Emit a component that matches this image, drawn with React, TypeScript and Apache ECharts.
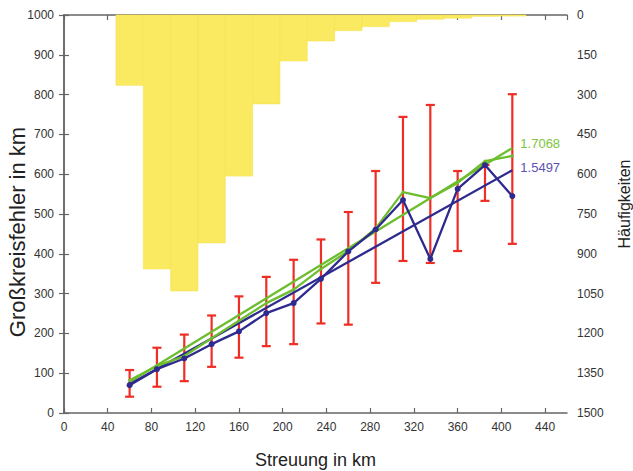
import React, { useEffect, useRef } from "react";
import * as echarts from "echarts";

const xs = [60, 85, 110, 135, 160, 185, 210, 235, 260, 285, 310, 335, 360, 385, 410];
const counts = [265, 957, 1040, 859, 607, 335, 173, 98, 59, 44, 25, 16, 12, 5, 4];
const blueMean = [70, 110, 137, 173, 205, 251, 276, 337, 406, 461, 535, 387, 563, 623, 545];
const greenMean = [82, 118, 143, 188, 232, 276, 310, 362, 407, 464, 555, 540, 578, 633, 646];
const errHigh = [108, 164, 197, 245, 293, 342, 385, 436, 505, 608, 744, 774, 608, 623, 801];
const errLow = [41, 66, 80, 116, 139, 168, 173, 225, 222, 327, 382, 377, 407, 533, 425];
const blueFit = [[60, 72], [410, 610]];
const greenFit = [[60, 78], [410, 666]];
const blueSlope = "1.5497";
const greenSlope = "1.7068";
const binWidth = 25;
const leftTitle = "Großkreisfehler in km";
const rightTitle = "Häufigkeiten";
const bottomTitle = "Streuung in km";

const FONT = "'Liberation Sans', Arial, Helvetica, sans-serif";
const AXIS_COLOR = "#666";
const TEXT_COLOR = "#333";

export default function App() {
  const ref = useRef<HTMLDivElement>(null);
  useEffect(() => {
    if (!ref.current) return;
    const chart = echarts.init(ref.current, undefined, { renderer: "svg" });
    const axisCommon = {
      axisLine: { show: true, lineStyle: { color: AXIS_COLOR, width: 1.5 } },
      axisTick: { show: true, inside: true, length: 5, lineStyle: { color: AXIS_COLOR, width: 1.2 } },
      splitLine: { show: false },
    };
    const plain = (v: number) => String(v);
    chart.setOption({
      animation: false,
      backgroundColor: "#fff",
      textStyle: { fontFamily: FONT },
      grid: { left: 64, right: 66, top: 15, bottom: 58, containLabel: false, outerBoundsMode: "none" },
      graphic: [
        {
          type: "text",
          x: 17,
          y: 232,
          rotation: Math.PI / 2,
          style: {
            text: leftTitle,
            font: `22px ${FONT}`,
            fill: "#222",
            align: "center",
            verticalAlign: "middle",
            textAlign: "center",
            textVerticalAlign: "middle",
          },
        },
        {
          type: "text",
          x: 624,
          y: 204,
          rotation: Math.PI / 2,
          style: {
            text: rightTitle,
            font: `16px ${FONT}`,
            fill: "#222",
            align: "center",
            verticalAlign: "middle",
            textAlign: "center",
            textVerticalAlign: "middle",
          },
        },
      ],
      xAxis: [
        {
          type: "value",
          min: 0,
          max: 460,
          interval: 40,
          position: "bottom",
          ...axisCommon,
          axisLabel: { color: TEXT_COLOR, fontSize: 12, margin: 8, fontFamily: FONT, showMaxLabel: false, formatter: plain },
          name: bottomTitle,
          nameLocation: "middle",
          nameGap: 38,
          nameTextStyle: { color: "#222", fontSize: 18, fontFamily: FONT },
        },
        {
          type: "value",
          min: 0,
          max: 460,
          interval: 40,
          position: "top",
          ...axisCommon,
          axisLabel: { show: false },
        },
      ],
      yAxis: [
        {
          type: "value",
          min: 0,
          max: 1000,
          interval: 100,
          position: "left",
          ...axisCommon,
          axisLabel: { color: TEXT_COLOR, fontSize: 12, margin: 10, fontFamily: FONT, formatter: plain },
        },
        {
          type: "value",
          min: 0,
          max: 1500,
          interval: 150,
          inverse: true,
          position: "right",
          ...axisCommon,
          axisLabel: { color: TEXT_COLOR, fontSize: 12, margin: 10, fontFamily: FONT, formatter: plain },
        },
      ],
      series: [
        {
          type: "custom",
          name: "hist",
          xAxisIndex: 0,
          yAxisIndex: 1,
          z: 1,
          data: xs.map((x, i) => [x, counts[i]]),
          renderItem: (params: any, api: any) => {
            const x = api.value(0);
            const v = api.value(1);
            const p0 = api.coord([x - binWidth / 2, 0]);
            const p1 = api.coord([x + binWidth / 2, v]);
            return {
              type: "rect",
              shape: { x: p0[0], y: p0[1], width: p1[0] - p0[0], height: p1[1] - p0[1] },
              style: { fill: "#FAEA62", stroke: "#F6E24E", lineWidth: 0.6 },
            };
          },
        },
        {
          type: "custom",
          name: "err",
          xAxisIndex: 0,
          yAxisIndex: 0,
          z: 2,
          data: xs.map((x, i) => [x, errLow[i], errHigh[i]]),
          renderItem: (params: any, api: any) => {
            const x = api.value(0);
            const lo = api.coord([x, api.value(1)]);
            const hi = api.coord([x, api.value(2)]);
            const cap = 4.5;
            const style = { stroke: "#EE2E24", lineWidth: 2.2 };
            return {
              type: "group",
              children: [
                { type: "line", shape: { x1: hi[0], y1: hi[1], x2: lo[0], y2: lo[1] }, style },
                { type: "line", shape: { x1: hi[0] - cap, y1: hi[1], x2: hi[0] + cap, y2: hi[1] }, style },
                { type: "line", shape: { x1: lo[0] - cap, y1: lo[1], x2: lo[0] + cap, y2: lo[1] }, style },
              ],
            };
          },
        },
        {
          type: "line",
          name: "greenFit",
          z: 3,
          data: greenFit,
          symbol: "none",
          lineStyle: { color: "#6DBE2E", width: 2.3 },
          endLabel: {
            show: true,
            formatter: greenSlope,
            color: "#7CC43A",
            fontSize: 13,
            fontFamily: FONT,
            offset: [0, -4],
          },
        },
        {
          type: "line",
          name: "blueFit",
          z: 3,
          data: blueFit,
          symbol: "none",
          lineStyle: { color: "#2E2A8E", width: 2.3 },
          endLabel: {
            show: true,
            formatter: blueSlope,
            color: "#5E50B4",
            fontSize: 13,
            fontFamily: FONT,
            offset: [0, -3],
          },
        },
        {
          type: "line",
          name: "greenMean",
          z: 4,
          data: xs.map((x, i) => [x, greenMean[i]]),
          symbol: "circle",
          symbolSize: 3,
          itemStyle: { color: "#6DBE2E" },
          lineStyle: { color: "#6DBE2E", width: 2.3 },
        },
        {
          type: "line",
          name: "blueMean",
          z: 5,
          data: xs.map((x, i) => [x, blueMean[i]]),
          symbol: "circle",
          symbolSize: 6,
          itemStyle: { color: "#2E2A8E" },
          lineStyle: { color: "#2E2A8E", width: 2.3 },
        },
      ],
    });
    return () => chart.dispose();
  }, []);
  return (
    <div
      ref={ref}
      style={{ position: "fixed", left: 0, top: 0, width: 633, height: 471, background: "#fff" }}
    />
  );
}
